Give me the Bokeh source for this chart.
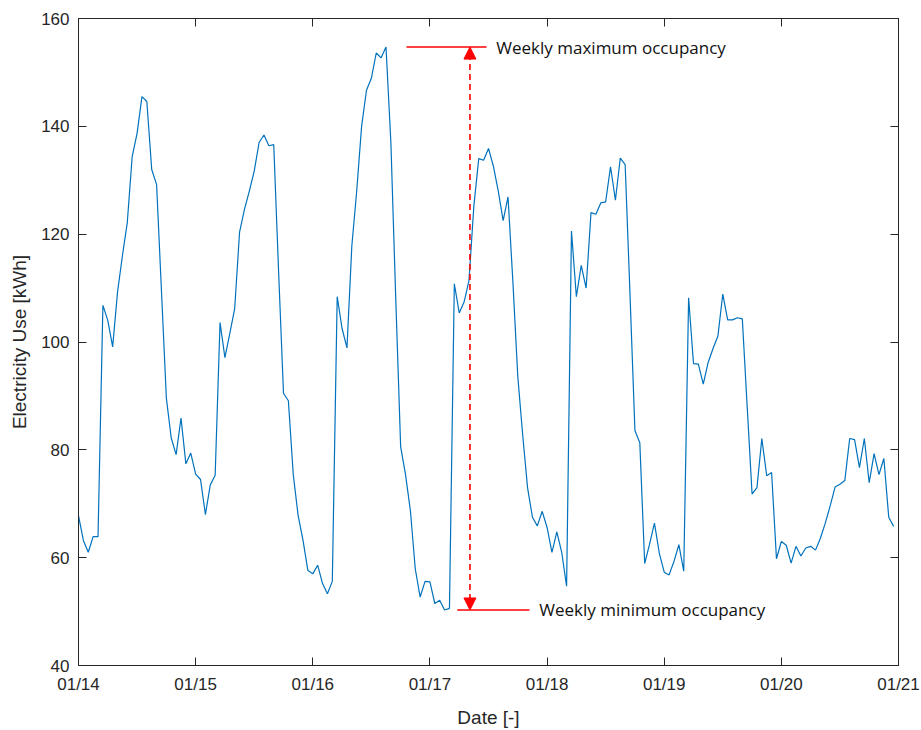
from bokeh.plotting import figure
from bokeh.models import Range1d, FixedTicker, LinearAxis, Label, Arrow, NormalHead
from bokeh.embed import file_html
from bokeh.resources import INLINE

# ---- data -----------------------------------------------------------------
tick_labels = ["01/14", "01/15", "01/16", "01/17", "01/18", "01/19", "01/20", "01/21"]
tick_hours = [0, 24, 48, 72, 96, 120, 144, 168]
y_ticks = [40, 60, 80, 100, 120, 140, 160]

# hourly electricity use [kWh], 01/14 00:00 .. 01/20 23:00
electricity_kwh = [
    67.8, 63.2, 61.0, 63.9, 63.9, 106.8, 104.0, 99.1, 109.3, 116.0,
    122.2, 134.4, 138.7, 145.5, 144.6, 132.0, 129.2, 109.4, 89.6, 82.2,
    79.1, 85.9, 77.4, 79.4, 75.5, 74.5, 68.0, 73.5, 75.3, 103.6,
    97.1, 101.6, 106.2, 120.4, 124.6, 128.0, 131.7, 137.0, 138.4, 136.4,
    136.6, 113.0, 90.5, 89.1, 75.4, 67.8, 63.2, 57.6, 57.0, 58.6,
    55.2, 53.3, 55.6, 108.4, 102.5, 98.9, 117.8, 128.0, 140.0, 146.7,
    148.9, 153.6, 152.7, 154.7, 137.0, 108.0, 80.6, 75.4, 68.7, 57.9,
    52.7, 55.6, 55.5, 51.5, 52.1, 50.3, 50.6, 110.8, 105.4, 107.4,
    111.4, 125.2, 134.0, 133.7, 135.9, 132.6, 128.0, 122.5, 126.9, 111.1,
    93.6, 82.8, 73.0, 67.5, 65.9, 68.6, 65.6, 61.0, 64.8, 61.0,
    54.7, 120.6, 108.4, 114.2, 110.0, 124.0, 123.7, 125.8, 126.0, 132.5,
    126.3, 134.1, 132.9, 108.6, 83.6, 81.3, 58.9, 62.5, 66.4, 60.8,
    57.3, 56.8, 59.3, 62.4, 57.5, 108.2, 96.0, 95.9, 92.2, 96.2,
    98.8, 101.1, 108.9, 104.1, 104.1, 104.5, 104.3, 88.0, 71.8, 73.0,
    82.1, 75.2, 75.8, 59.8, 63.0, 62.3, 59.0, 62.1, 60.3, 61.8,
    62.1, 61.4, 63.6, 66.4, 69.6, 73.1, 73.6, 74.3, 82.1, 81.9,
    76.7, 82.1, 73.9, 79.3, 75.4, 78.4, 67.5, 65.8,
]
hours = list(range(len(electricity_kwh)))

max_label = "Weekly maximum occupancy"
min_label = "Weekly minimum occupancy"

# ---- figure ---------------------------------------------------------------
AX = "#262626"
p = figure(width=921, height=730, output_backend="svg", toolbar_location=None,
           x_range=Range1d(0, 168), y_range=Range1d(40, 160),
           min_border_left=78, min_border_right=23, min_border_top=18, min_border_bottom=61)
p.grid.visible = False
p.outline_line_color = AX
p.outline_line_width = 1
p.background_fill_color = "white"
p.border_fill_color = "white"

p.line(hours, electricity_kwh, line_color="#0072BD", line_width=1.2)

ymax = max(electricity_kwh)
ymin = min(electricity_kwh)
arrow_x = 80.2

p.line([67.2, 83.6], [ymax, ymax], line_color="#ff0000", line_width=1.5)
p.line([77.6, 92.4], [ymin, ymin], line_color="#ff0000", line_width=1.5)
p.add_layout(Arrow(
    start=NormalHead(size=12, fill_color="#ff0000", line_color="#ff0000", line_width=1),
    end=NormalHead(size=12, fill_color="#ff0000", line_color="#ff0000", line_width=1),
    x_start=arrow_x, y_start=ymin, x_end=arrow_x, y_end=ymax,
    line_color="#ff0000", line_width=1.6, line_dash="6 4"))

p.add_layout(Label(x=85.6, y=ymax, text=max_label, text_font="Open Sans",
                   text_font_size="17px", text_baseline="middle", text_color="#111111"))
p.add_layout(Label(x=94.4, y=ymin, text=min_label, text_font="Open Sans",
                   text_font_size="17px", text_baseline="middle", text_color="#111111"))

# ---- axes -----------------------------------------------------------------
def style(ax):
    ax.axis_line_color = AX
    ax.major_tick_line_color = AX
    ax.major_tick_in = 8
    ax.major_tick_out = 0
    ax.minor_tick_line_color = None
    ax.major_label_text_font = "Liberation Sans"
    ax.major_label_text_font_size = "17px"
    ax.major_label_text_color = AX
    ax.axis_label_text_font = "Liberation Sans"
    ax.axis_label_text_font_size = "19px"
    ax.axis_label_text_font_style = "normal"
    ax.axis_label_text_color = AX

xa = p.xaxis[0]
xa.ticker = FixedTicker(ticks=tick_hours)
xa.major_label_overrides = {h: l for h, l in zip(tick_hours, tick_labels)}
xa.axis_label = "Date [-]"
xa.major_label_standoff = 9
xa.axis_label_standoff = 10
style(xa)

ya = p.yaxis[0]
ya.ticker = FixedTicker(ticks=y_ticks)
ya.axis_label = "Electricity Use [kWh]"
ya.major_label_standoff = 9
ya.axis_label_standoff = 8
style(ya)

# box ticks on top and right (no labels)
top = LinearAxis(ticker=FixedTicker(ticks=tick_hours))
style(top)
top.major_label_overrides = {h: "" for h in tick_hours}
top.major_label_text_font_size = "1px"
top.major_label_standoff = 0
p.add_layout(top, "above")
right = LinearAxis(ticker=FixedTicker(ticks=y_ticks))
style(right)
right.major_label_overrides = {v: "" for v in y_ticks}
right.major_label_text_font_size = "1px"
right.major_label_standoff = 0
p.add_layout(right, "right")

open("out.html", "w").write(file_html(p, INLINE))
